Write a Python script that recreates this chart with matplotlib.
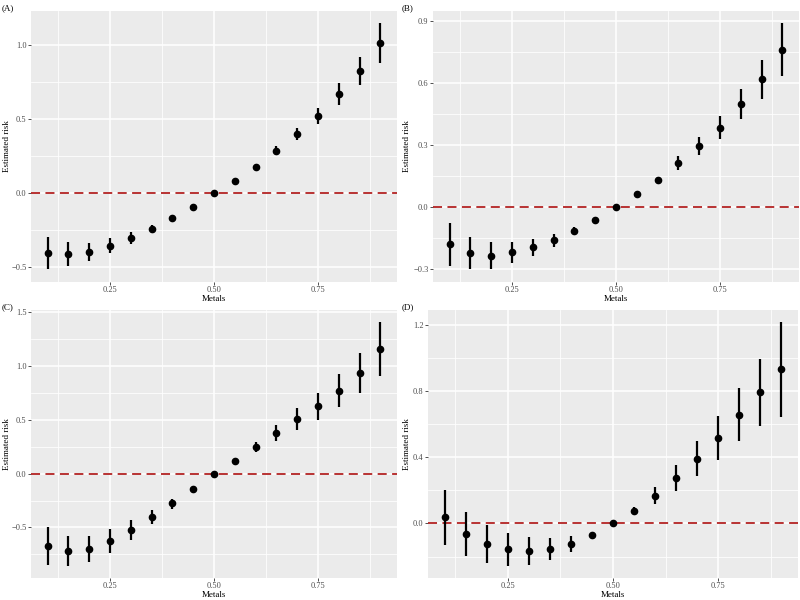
import numpy as np
import matplotlib
matplotlib.use("Agg")
import matplotlib.pyplot as plt
from matplotlib.ticker import MultipleLocator, FuncFormatter

plt.rcParams['font.family'] = ['Liberation Serif', 'DejaVu Serif']

metals = [0.10, 0.15, 0.20, 0.25, 0.30, 0.35, 0.40, 0.45, 0.50,
          0.55, 0.60, 0.65, 0.70, 0.75, 0.80, 0.85, 0.90]

# panel A
est_a = [-0.405, -0.41, -0.394, -0.354, -0.302, -0.239, -0.169, -0.092, 0.0,
         0.081, 0.18, 0.288, 0.399, 0.523, 0.671, 0.829, 1.016]
low_a = [-0.514, -0.489, -0.457, -0.405, -0.345, -0.268, -0.18, -0.10, 0.0,
         0.075, 0.17, 0.257, 0.358, 0.466, 0.595, 0.732, 0.883]
up_a = [-0.297, -0.331, -0.336, -0.304, -0.264, -0.212, -0.16, -0.085, 0.0,
        0.088, 0.19, 0.322, 0.441, 0.579, 0.743, 0.923, 1.149]

# panel B
est_b = [-0.181, -0.221, -0.235, -0.219, -0.195, -0.16, -0.115, -0.061, 0.0,
         0.063, 0.132, 0.213, 0.295, 0.385, 0.498, 0.618, 0.763]
low_b = [-0.285, -0.302, -0.298, -0.273, -0.237, -0.192, -0.131, -0.068, 0.0,
         0.058, 0.12, 0.181, 0.252, 0.329, 0.424, 0.523, 0.635]
up_b = [-0.076, -0.144, -0.171, -0.171, -0.155, -0.129, -0.098, -0.054, 0.0,
        0.068, 0.145, 0.245, 0.34, 0.442, 0.571, 0.711, 0.89]

# panel C
est_c = [-0.671, -0.714, -0.698, -0.625, -0.521, -0.401, -0.276, -0.141, 0.0,
         0.119, 0.248, 0.38, 0.502, 0.625, 0.769, 0.931, 1.152]
low_c = [-0.845, -0.855, -0.824, -0.732, -0.616, -0.472, -0.325, -0.15, 0.0,
         0.11, 0.196, 0.30, 0.401, 0.499, 0.619, 0.744, 0.90]
up_c = [-0.499, -0.576, -0.579, -0.518, -0.435, -0.334, -0.233, -0.132, 0.0,
        0.128, 0.294, 0.453, 0.603, 0.747, 0.919, 1.115, 1.403]

# panel D
est_d = [0.038, -0.062, -0.124, -0.154, -0.166, -0.152, -0.124, -0.07, 0.0,
         0.078, 0.168, 0.278, 0.393, 0.519, 0.659, 0.795, 0.932]
low_d = [-0.13, -0.198, -0.242, -0.256, -0.25, -0.218, -0.17, -0.08, 0.0,
         0.056, 0.118, 0.198, 0.29, 0.385, 0.499, 0.589, 0.643]
up_d = [0.20, 0.072, -0.008, -0.056, -0.082, -0.086, -0.076, -0.06, 0.0,
        0.10, 0.22, 0.355, 0.499, 0.649, 0.821, 0.998, 1.218]

panels = [
    ("(A)", est_a, low_a, up_a, 0.5, [0.03875, 0.5305, 0.4575, 0.4512], (0.002, 0.993)),
    ("(B)", est_b, low_b, up_b, 0.3, [0.54125, 0.5305, 0.4575, 0.4512], (0.502, 0.993)),
    ("(C)", est_c, low_c, up_c, 0.5, [0.03875, 0.0367, 0.4575, 0.4467], (0.002, 0.495)),
    ("(D)", est_d, low_d, up_d, 0.4, [0.535, 0.0367, 0.4625, 0.4467], (0.502, 0.495)),
]


def minus_fmt(v, pos):
    s = "%.1f" % v
    if s == "-0.0":
        s = "0.0"
    return s.replace("-", "\u2212")


fig = plt.figure(figsize=(8, 6), dpi=100)
fig.patch.set_facecolor("white")

for tag, est, low, up, step, rect, tagpos in panels:
    ax = fig.add_axes(rect)
    ax.set_facecolor("#EBEBEB")
    for s in ax.spines.values():
        s.set_visible(False)

    ax.xaxis.set_major_locator(MultipleLocator(0.25))
    ax.xaxis.set_minor_locator(MultipleLocator(0.125))
    ax.yaxis.set_major_locator(MultipleLocator(step))
    ax.yaxis.set_minor_locator(MultipleLocator(step / 2))
    ax.grid(which="major", color="white", lw=1.1)
    ax.grid(which="minor", color="white", lw=0.55)
    ax.set_axisbelow(True)

    lo = min(low)
    hi = max(up)
    pad = (hi - lo) * 0.05
    ax.set_ylim(lo - pad, hi + pad)
    ax.set_xlim(0.06, 0.94)

    ax.axhline(0, color="#B22222", lw=1.3, ls=(0, (5, 3)), zorder=2)
    ax.vlines(metals, low, up, color="black", lw=1.6, zorder=3)
    ax.plot(metals, est, "o", color="black", ms=4.5, zorder=4)

    ax.set_xticks([0.25, 0.5, 0.75])
    ax.set_xticklabels(["0.25", "0.50", "0.75"])
    ax.yaxis.set_major_formatter(FuncFormatter(minus_fmt))
    ax.tick_params(which="major", length=2, width=0.6, color="#333333",
                   labelsize=6, labelcolor="#4D4D4D", pad=1.2)
    ax.tick_params(which="minor", length=0)
    ax.set_xlabel("Metals", fontsize=6.5, labelpad=0.5)
    ax.set_ylabel("Estimated risk", fontsize=6.5)
    # y title sits a few pixels right of the panel's outer edge
    fig_w = 800
    x_px = rect[0] * fig_w
    left_edge = 0 if rect[0] < 0.5 else 400
    ax.yaxis.set_label_coords((left_edge + 11 - x_px) / (rect[2] * fig_w), 0.5)

    fig.text(tagpos[0], tagpos[1], tag, fontsize=6.5, va="top", ha="left")

fig.savefig("out.png", dpi=100)
